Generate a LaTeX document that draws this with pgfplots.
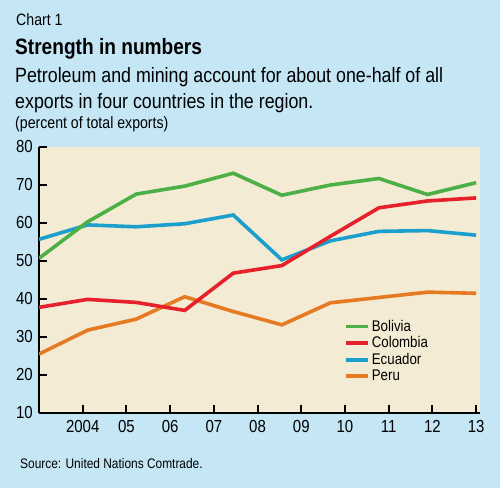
\documentclass[border=0pt]{standalone}
\usepackage{pgfplots}
\pgfplotsset{compat=1.18}
\usepackage{fontspec}
\setmainfont{Liberation Sans}[FakeStretch=0.86]

\definecolor{bgblue}{HTML}{C4E6F5}
\definecolor{beige}{HTML}{F3EBD3}
\definecolor{cgreen}{HTML}{4DB047}
\definecolor{cred}{HTML}{E6212B}
\definecolor{cblue}{HTML}{1B9FCC}
\definecolor{corange}{HTML}{E57A22}

% x positions 0..9 (first point at the y axis), ticks every 0.9
\pgfplotstableread{
x   bol   col   ecu   per
0   50.7  37.8  55.7  25.5
1   60.3  39.9  59.5  31.8
2   67.6  39.1  59.0  34.7
3   69.7  37.0  59.8  40.6
4   73.1  46.8  62.1  36.7
5   67.3  48.8  50.3  33.2
6   70.0  56.5  55.3  39.0
7   71.7  64.0  57.8  40.4
8   67.5  65.8  58.0  41.8
9   70.6  66.6  56.8  41.5
}\exports

\begin{document}
\begin{tikzpicture}[x=1bp,y=1bp]
\fill[bgblue] (0,0) rectangle (500,488);
\useasboundingbox (0,0) rectangle (500,488);

\node[anchor=base west,inner sep=0,font=\fontsize{16.5}{16.5}\selectfont] at (16,462) {Chart 1};
\node[anchor=base west,inner sep=0,font=\fontsize{22.3}{22.3}\selectfont\bfseries] at (15,433.7) {Strength in numbers};
\node[anchor=base west,inner sep=0,font=\fontsize{20.8}{20.8}\selectfont] at (15,405.3) {Petroleum and mining account for about one-half of all};
\node[anchor=base west,inner sep=0,font=\fontsize{20.8}{20.8}\selectfont] at (15,379.7) {exports in four countries in the region.};
\node[anchor=base west,inner sep=0,font=\fontsize{16.5}{16.5}\selectfont] at (15,359) {(percent of total exports)};
\node[anchor=base west,inner sep=0,font=\fontsize{13.9}{13.9}\selectfont] at (20,19) {Source: United Nations Comtrade.};

\begin{axis}[
    at={(39bp,75bp)}, anchor=south west,
    scale only axis,
    width=441bp, height=266bp,
    xmin=0, xmax=9.08,
    ymin=10, ymax=80,
    axis x line*=bottom,
    axis y line*=left,
    axis line style={line width=2.2bp, black},
    axis background/.style={fill=beige},
    xtick={0.9,1.8,2.7,3.6,4.5,5.4,6.3,7.2,8.1,9.0},
    xticklabels={2004,05,06,07,08,09,10,11,12,13},
    ytick={10,20,30,40,50,60,70,80},
    tick align=inside,
    major tick length=8bp,
    tick style={line width=2bp, black},
    /pgf/number format/assume math mode=true,
    yticklabel style={font=\fontsize{17.5}{17.5}\selectfont, inner sep=0pt, anchor=east, xshift=-6bp},
    xticklabel style={font=\fontsize{17.5}{17.5}\selectfont, inner sep=0pt, anchor=north, yshift=-7.5bp},
    legend style={at={(0.685,0.365)}, anchor=north west, draw=none, fill=none,
        font=\fontsize{15.5}{15.5}\selectfont, row sep=0bp,
        /tikz/every odd column/.style={inner xsep=0pt}},
    legend cell align=left,
    legend image code/.code={\draw[#1] (0bp,0bp) -- (22bp,0bp);},
    every axis plot/.append style={line width=3.6bp},
]
\addplot[cblue, forget plot] table[x=x, y=ecu] {\exports};
\addplot[corange, forget plot] table[x=x, y=per] {\exports};
\addplot[cred, forget plot] table[x=x, y=col] {\exports};
\addplot[cgreen, forget plot] table[x=x, y=bol] {\exports};
\addlegendimage{cgreen, line width=3.6bp}
\addlegendentry{Bolivia}
\addlegendimage{cred, line width=3.6bp}
\addlegendentry{Colombia}
\addlegendimage{cblue, line width=3.6bp}
\addlegendentry{Ecuador}
\addlegendimage{corange, line width=3.6bp}
\addlegendentry{Peru}
\end{axis}
\end{tikzpicture}
\end{document}
